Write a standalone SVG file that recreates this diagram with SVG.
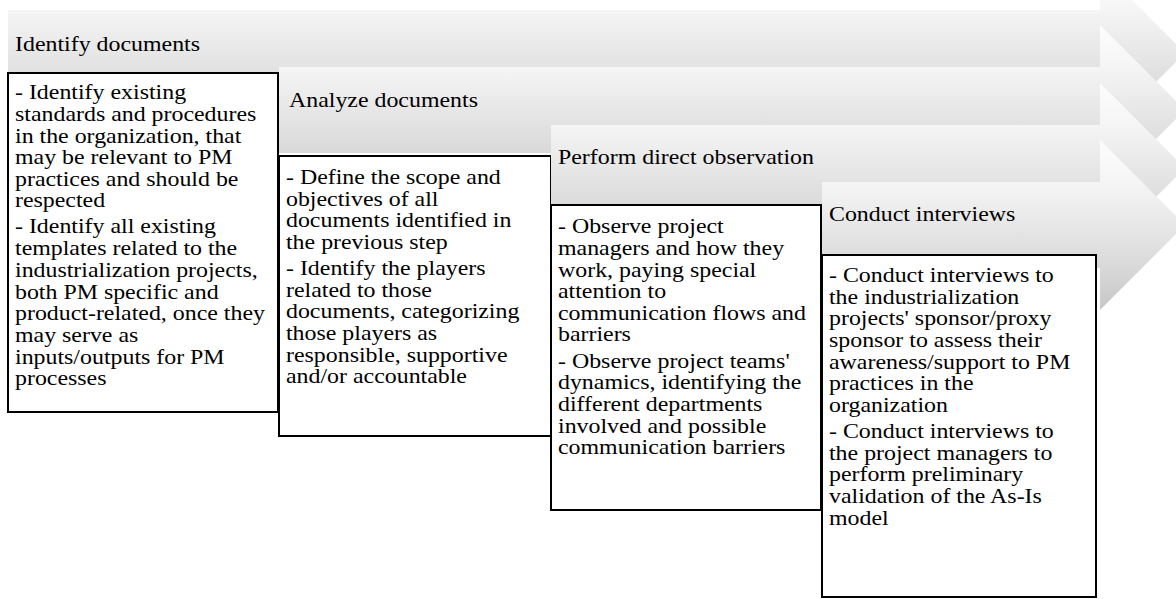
<svg xmlns="http://www.w3.org/2000/svg" width="1176" height="599" viewBox="0 0 1176 599">
<defs>
<linearGradient id="g" x1="0" y1="0" x2="0" y2="1">
<stop offset="0" stop-color="#fdfdfd"/>
<stop offset="0.25" stop-color="#f5f5f5"/>
<stop offset="0.75" stop-color="#d9d9d9"/>
<stop offset="1" stop-color="#c6c6c6"/>
</linearGradient>
<style>
.arr{fill:url(#g);stroke:none}
.box{fill:#fff;stroke:#000;stroke-width:2}
text{font-family:"Liberation Serif","Times New Roman",serif;font-size:20.5px;fill:#000}
</style>
</defs>
<rect width="1176" height="599" fill="#fff"/>
<g id="step1">
<polygon class="arr" points="8,10 1100,10 1100,-32 1185,53 1100,138 1100,96 8,96"/>
<g transform="matrix(1.165,0,0,1,-2.475,0)">
<text x="15" y="51">Identify documents</text>
</g>
<rect class="box" x="8" y="73" width="270" height="339"/>
<g transform="matrix(1.165,0,0,1,-2.475,0)">
<text x="15" y="99">- Identify existing</text>
<text x="15" y="121">standards and procedures</text>
<text x="15" y="143">in the organization, that</text>
<text x="15" y="164">may be relevant to PM</text>
<text x="15" y="186">practices and should be</text>
<text x="15" y="207">respected</text>
<text x="15" y="233">- Identify all existing</text>
<text x="15" y="255">templates related to the</text>
<text x="15" y="277">industrialization projects,</text>
<text x="15" y="299">both PM specific and</text>
<text x="15" y="320">product-related, once they</text>
<text x="15" y="342">may serve as</text>
<text x="15" y="364">inputs/outputs for PM</text>
<text x="15" y="385">processes</text>
</g>
</g>
<g id="step2">
<polygon class="arr" points="279,67 1100,67 1100,25 1185,110 1100,195 1100,153 279,153"/>
<g transform="matrix(1.165,0,0,1,-47.685,0)">
<text x="289" y="107">Analyze documents</text>
</g>
<rect class="box" x="279" y="156" width="272" height="280"/>
<g transform="matrix(1.165,0,0,1,-47.19,0)">
<text x="286" y="184">- Define the scope and</text>
<text x="286" y="206">objectives of all</text>
<text x="286" y="227">documents identified in</text>
<text x="286" y="249">the previous step</text>
<text x="286" y="275">- Identify the players</text>
<text x="286" y="297">related to those</text>
<text x="286" y="318">documents, categorizing</text>
<text x="286" y="340">those players as</text>
<text x="286" y="362">responsible, supportive</text>
<text x="286" y="383">and/or accountable</text>
</g>
</g>
<g id="step3">
<polygon class="arr" points="551,125 1100,125 1100,83 1185,168 1100,253 1100,211 551,211"/>
<rect class="box" x="551" y="205" width="270" height="305"/>
<g transform="matrix(1.165,0,0,1,-92.07,0)">
<text x="558" y="164">Perform direct observation</text>
<text x="558" y="233">- Observe project</text>
<text x="558" y="255">managers and how they</text>
<text x="558" y="277">work, paying special</text>
<text x="558" y="298">attention to</text>
<text x="558" y="320">communication flows and</text>
<text x="558" y="341">barriers</text>
<text x="558" y="368">- Observe project teams'</text>
<text x="558" y="389">dynamics, identifying the</text>
<text x="558" y="411">different departments</text>
<text x="558" y="433">involved and possible</text>
<text x="558" y="454">communication barriers</text>
</g>
</g>
<g id="step4">
<polygon class="arr" points="822,182 1100,182 1100,140 1185,225 1100,310 1100,268 822,268"/>
<rect class="box" x="822" y="255" width="274" height="342"/>
<g transform="matrix(1.165,0,0,1,-136.785,0)">
<text x="829" y="221">Conduct interviews</text>
<text x="829" y="282">- Conduct interviews to</text>
<text x="829" y="304">the industrialization</text>
<text x="829" y="325">projects' sponsor/proxy</text>
<text x="829" y="347">sponsor to assess their</text>
<text x="829" y="369">awareness/support to PM</text>
<text x="829" y="390">practices in the</text>
<text x="829" y="412">organization</text>
<text x="829" y="438">- Conduct interviews to</text>
<text x="829" y="460">the project managers to</text>
<text x="829" y="481">perform preliminary</text>
<text x="829" y="503">validation of the As-Is</text>
<text x="829" y="525">model</text>
</g>
</g>
</svg>
